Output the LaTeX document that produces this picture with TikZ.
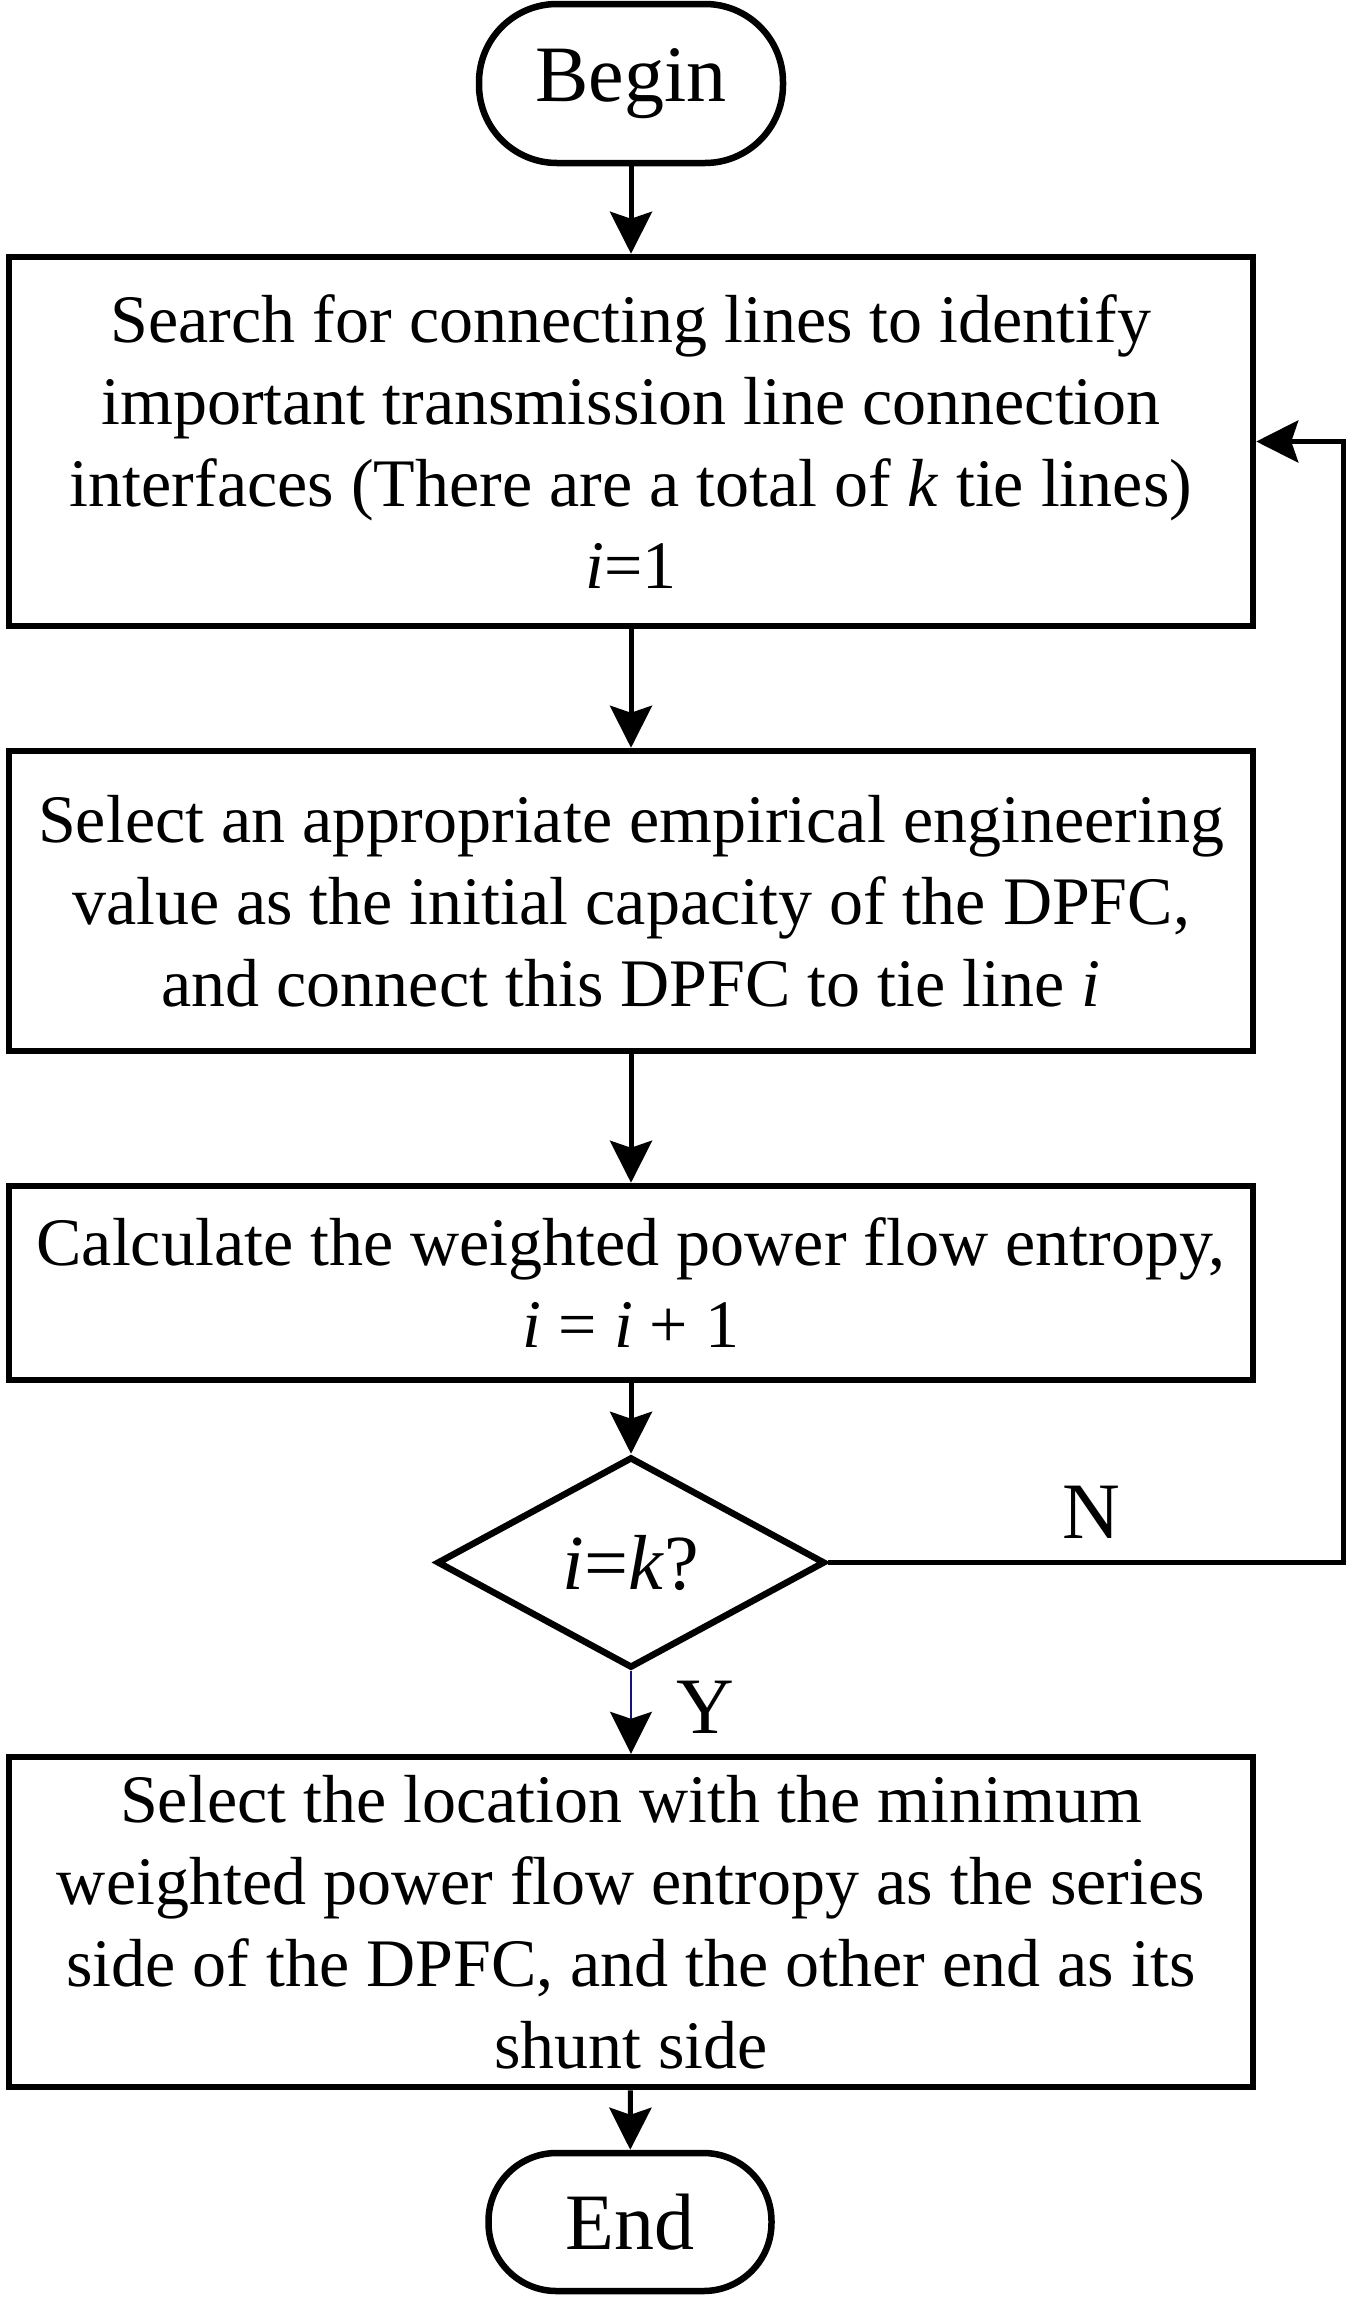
\documentclass[tikz,border=0pt]{standalone}
\usepackage{fontspec}
\setmainfont{Liberation Serif}
\usetikzlibrary{arrows.meta,shapes.geometric}
\tikzset{
  procbox/.style={draw, line width=6.5pt, minimum width=1244pt, inner sep=0pt, align=center, font=\fontsize{68}{82}\selectfont},
  term/.style={draw, line width=6.5pt, inner sep=0pt, font=\fontsize{80}{96}\selectfont},
  decide/.style={draw, diamond, line width=6.5pt, inner sep=0pt, minimum width=388pt, minimum height=211pt, font=\fontsize{78}{94}\selectfont},
  conn/.style={line width=5pt, -{Stealth[length=42pt,width=42pt,inset=7pt]}},
  lbl/.style={font=\fontsize{80}{96}\selectfont, inner sep=0pt}
}
\begin{document}
\begin{tikzpicture}[x=1pt,y=-1pt]
\useasboundingbox (0,0) rectangle (1352,2297);
\node[term, rounded corners=78pt, minimum width=304pt, minimum height=159pt] (begin) at (631,83.5) {Begin};
\node[procbox, minimum height=369pt] (box1) at (631,441.5) {Search for connecting lines to identify\\important transmission line connection\\interfaces (There are a total of \textit{k} tie lines)\\\textit{i}=1};
\node[procbox, minimum height=300pt] (box2) at (631,901) {Select an appropriate empirical engineering\\value as the initial capacity of the DPFC,\\and connect this DPFC to tie line \textit{i}};
\node[procbox, minimum height=194pt] (box3) at (631,1283) {Calculate the weighted power flow entropy,\\\textit{i} = \textit{i} + 1};
\node[decide] (dec) at (631,1562.5) {\textit{i}=\textit{k}?};
\node[procbox, minimum height=330pt] (box4) at (631,1922) {Select the location with the minimum\\weighted power flow entropy as the series\\side of the DPFC, and the other end as its\\shunt side};
\node[term, rounded corners=68pt, minimum width=283pt, minimum height=138pt] (end) at (630,2222) {End};
\coordinate (fb) at (1343,1562.5);
\node[lbl] (nlab) at (1091,1512) {N};
\node[lbl] (ylab) at (705,1707) {Y};
\draw[conn] (begin) -- (box1);
\draw[conn] (box1) -- (box2);
\draw[conn] (box2) -- (box3);
\draw[conn] (box3) -- (dec);
\draw[line width=2pt, draw={rgb,255:red,20;green,20;blue,120}, -{Stealth[length=42pt,width=42pt,inset=7pt,color=black]}] (dec.south) -- (box4.north);
\draw[conn] (box4) -- (end);
\draw[conn] (dec.east) -- (fb) |- (box1.east);
\end{tikzpicture}
\end{document}
